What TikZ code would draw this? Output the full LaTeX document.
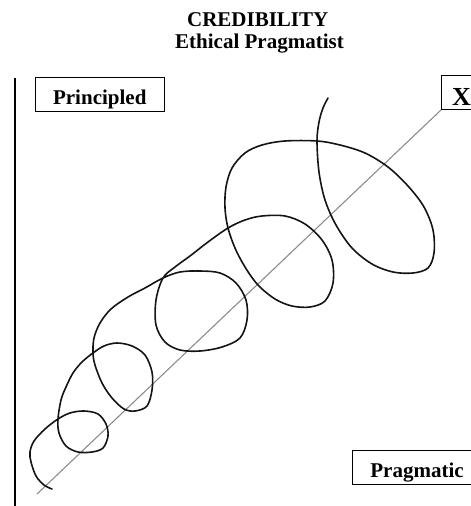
\documentclass[tikz,border=0pt]{standalone}
\usepackage{fontspec}
\setmainfont{Liberation Serif}
\usepackage{xcolor}
\definecolor{lineGray}{HTML}{8C8C8C}
\definecolor{inkBlack}{HTML}{141414}

\begin{document}
\begin{tikzpicture}[x=1pt, y=-1pt,
  tag/.style={draw, line width=1pt, font=\bfseries\fontsize{21}{24}\selectfont,
    minimum height=34pt, inner ysep=0pt, text height=19pt, text depth=0pt},
  title/.style={font=\bfseries\fontsize{21}{24}\selectfont, anchor=base, inner sep=0pt}]
  \useasboundingbox (0,0) rectangle (471,506);
  % title
  \node[title] (cred) at (257.7,26.7) {CREDIBILITY};
  \node[title] (ethic) at (259.5,48.3) {Ethical Pragmatist};
  % labels
  \node[tag, minimum width=129.5pt] (princ) at (99.75,94.5) {Principled};
  \node[tag, anchor=north west, minimum width=40pt, text height=26pt,
    font=\bfseries\fontsize{26}{30}\selectfont] (xmark) at (441,75) {X};
  \node[tag, anchor=north west, minimum width=130pt] (prag) at (351.5,450) {Pragmatic};
  % axis
  \draw[line width=2pt] (15,78) -- (15,506);
  \coordinate (origin) at (37,494);
  \draw[lineGray, line width=1.1pt] (origin) -- (xmark.south west);
  % spiral
  \draw[inkBlack, line width=1.6pt, line join=round, line cap=round]
    plot[smooth, tension=0.55] coordinates {
      (52,489) (44,485) (36,476) (31,462) (30,452) (34,441) (45,429) (58,419)
      (70,413) (84,411) (98,414) (106,424) (108,436) (103,448) (92,452) (78,452)
      (66,446) (59,433) (58,419)
      (61,400) (66,387) (73,373) (82,362) (93,353)
      (104,346) (117,343) (132,346) (145,355) (152,372) (152,390) (147,406)
      (135,411) (124,409) (112,398) (102,383) (95,365) (93,353)
      (94,338) (100,323) (111,309) (128,297) (145,288) (163,278)
      (180,272) (200,271) (220,273) (236,283) (246,300) (247,320) (240,338)
      (222,347) (200,351) (180,350) (165,342) (156,325) (156,300) (163,278)
      (175,267) (190,256) (208,242) (228,228)
      (245,220) (262,216) (285,216) (305,224) (322,240) (332,260) (333,283)
      (325,301) (310,307) (292,306) (275,299) (258,285) (245,267) (235,248) (228,228)
      (225,208) (226,187) (232,168) (245,153) (262,145) (285,141) (317,141)
      (340,145) (365,153) (388,167) (408,186) (424,207) (433,230) (434,253)
      (428,268) (413,273) (393,272) (372,264) (352,248) (336,225) (325,200)
      (319,172) (317,141)
      (319,122) (323,108) (328,98)};
\end{tikzpicture}
\end{document}
